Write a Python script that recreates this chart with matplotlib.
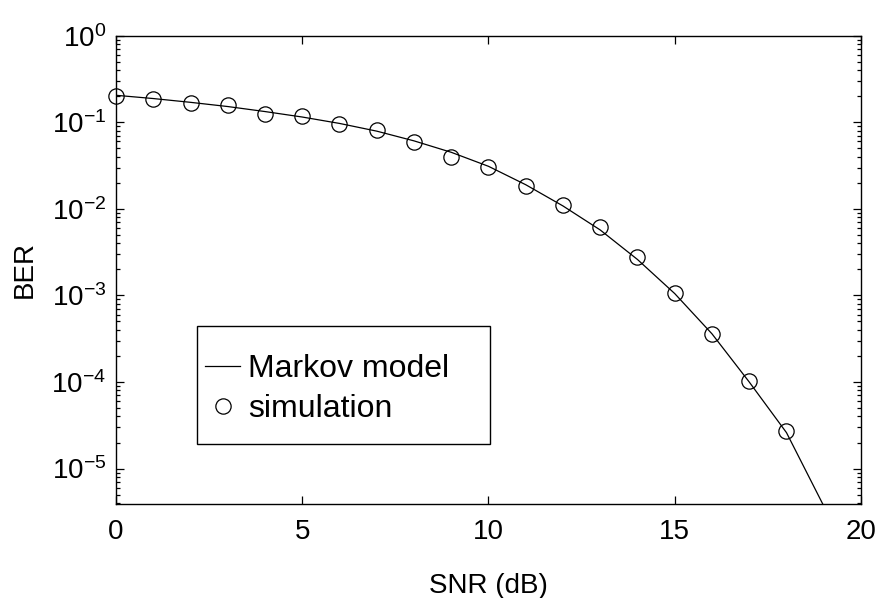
import matplotlib
matplotlib.use("Agg")
import matplotlib.pyplot as plt
from matplotlib.patches import Rectangle
from matplotlib.ticker import LogLocator, NullFormatter

plt.rcParams['font.family'] = ['Liberation Sans', 'DejaVu Sans']
plt.rcParams['mathtext.fontset'] = 'custom'
plt.rcParams['mathtext.rm'] = 'Liberation Sans'
plt.rcParams['mathtext.it'] = 'Liberation Sans:italic'

# Markov model (line)
snr_model = list(range(0, 21))
ber_model = [0.205, 0.188, 0.170, 0.152, 0.133, 0.115, 0.097, 0.079, 0.061,
             0.045, 0.031, 0.019, 0.0108, 0.0057, 0.0026, 0.00105, 0.00036,
             1.0e-4, 2.6e-5, 3.7e-6, 3.5e-7]

# simulation (circles)
snr_sim = list(range(0, 19))
ber_sim = [0.203, 0.186, 0.166, 0.157, 0.124, 0.118, 0.0955, 0.0815, 0.0593,
           0.0401, 0.0307, 0.0183, 0.0111, 0.00623, 0.00281, 0.00108, 3.56e-4,
           1.04e-4, 2.75e-5]

FS = 20
LFS = 23

fig = plt.figure(figsize=(8.79, 5.98), dpi=100)
ax = fig.add_axes([116/879, 1-504/598, 745/879, 468.3/598])

ax.semilogy(snr_model, ber_model, color='black', lw=0.9, label='Markov model')
ax.semilogy(snr_sim, ber_sim, linestyle='none', marker='o', markersize=11,
            markerfacecolor='none', markeredgecolor='black', markeredgewidth=0.9,
            label='simulation', clip_on=False)

ax.set_xlim(0, 20)
ax.set_ylim(3.9e-6, 1)
ax.set_xticks([0, 5, 10, 15, 20])
ax.yaxis.set_major_locator(LogLocator(base=10, numticks=10))
ax.yaxis.set_minor_locator(LogLocator(base=10, subs=range(2, 10), numticks=10))
ax.yaxis.set_minor_formatter(NullFormatter())

ax.tick_params(axis='both', which='major', direction='in', length=5.5, width=0.9,
               top=True, right=True, labelsize=FS)
ax.tick_params(axis='x', which='major', pad=11)
ax.tick_params(axis='y', which='major', pad=7)
ax.tick_params(axis='both', which='minor', direction='in', length=3, width=0.9,
               top=True, right=True)
for s in ax.spines.values():
    s.set_linewidth(1.0)

ax.set_xlabel('SNR (dB)', fontsize=FS, labelpad=20)
ax.set_ylabel('BER', fontsize=FS, labelpad=10)

# legend box frame
ax.add_patch(Rectangle((0.1087, 0.128), 0.3933, 0.252, transform=ax.transAxes,
                       facecolor='white', edgecolor='black', lw=1.0, zorder=4))
leg = ax.legend(loc='center left', bbox_to_anchor=(0.1195, 0.2455),
                fontsize=LFS, frameon=False, handlelength=1.1,
                handletextpad=0.25, borderpad=0, labelspacing=0.31,
                borderaxespad=0)
leg.set_zorder(5)

fig.savefig('out.png', dpi=100)
